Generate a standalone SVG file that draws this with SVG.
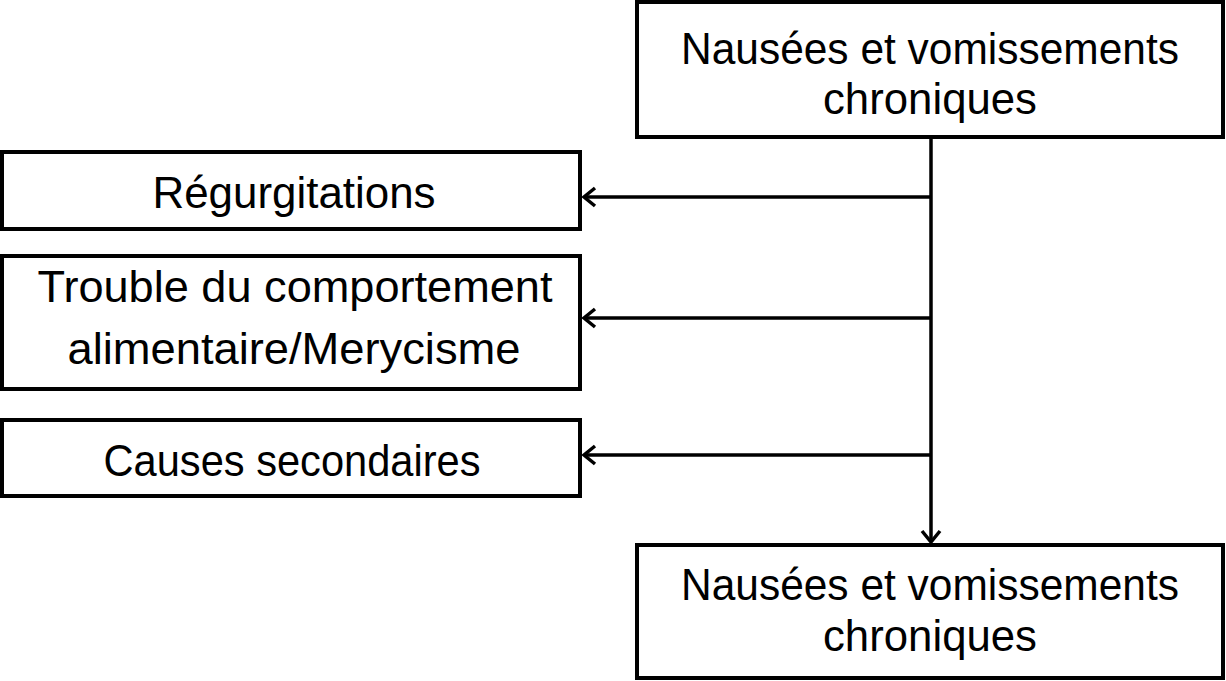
<svg xmlns="http://www.w3.org/2000/svg" width="1226" height="681" viewBox="0 0 1226 681">
<style>
.box{fill:#fff;stroke:#000;stroke-width:4}
.t{font-family:"Liberation Sans",Arial,sans-serif;font-size:45px;fill:#000;text-anchor:middle}
.c{stroke:#000;stroke-width:3.5;fill:none}
</style>
<defs>
<marker id="ah" markerWidth="16" markerHeight="20" refX="13" refY="10" orient="auto" markerUnits="userSpaceOnUse" overflow="visible">
<path d="M2,1 L13,10 L2,19" fill="none" stroke="#000" stroke-width="3.5"/>
</marker>
</defs>
<g id="top">
<rect class="box" x="637" y="2" width="586" height="135"/>
<text class="t" x="930" y="64" textLength="498" lengthAdjust="spacingAndGlyphs">Nausées et vomissements</text>
<text class="t" x="930" y="114" textLength="214" lengthAdjust="spacingAndGlyphs">chroniques</text>
</g>
<g id="regurg">
<rect class="box" x="2" y="152" width="578" height="77"/>
<text class="t" x="294" y="208" textLength="283" lengthAdjust="spacingAndGlyphs">Régurgitations</text>
</g>
<g id="trouble">
<rect class="box" x="2" y="256" width="578" height="133"/>
<text class="t" x="295" y="302" textLength="515" lengthAdjust="spacingAndGlyphs">Trouble du comportement</text>
<text class="t" x="294" y="364" textLength="453" lengthAdjust="spacingAndGlyphs">alimentaire/Merycisme</text>
</g>
<g id="causes">
<rect class="box" x="2" y="420" width="578" height="76"/>
<text class="t" x="292" y="476" textLength="377" lengthAdjust="spacingAndGlyphs">Causes secondaires</text>
</g>
<g id="bottom">
<rect class="box" x="637" y="545" width="586" height="133"/>
<text class="t" x="930" y="600" textLength="498" lengthAdjust="spacingAndGlyphs">Nausées et vomissements</text>
<text class="t" x="930" y="651" textLength="214" lengthAdjust="spacingAndGlyphs">chroniques</text>
</g>
<g id="connectors">
<path class="c" d="M931,137 V542" marker-end="url(#ah)"/>
<path class="c" d="M931,197 H584" marker-end="url(#ah)"/>
<path class="c" d="M931,318 H584" marker-end="url(#ah)"/>
<path class="c" d="M931,455 H584" marker-end="url(#ah)"/>
</g>
</svg>
